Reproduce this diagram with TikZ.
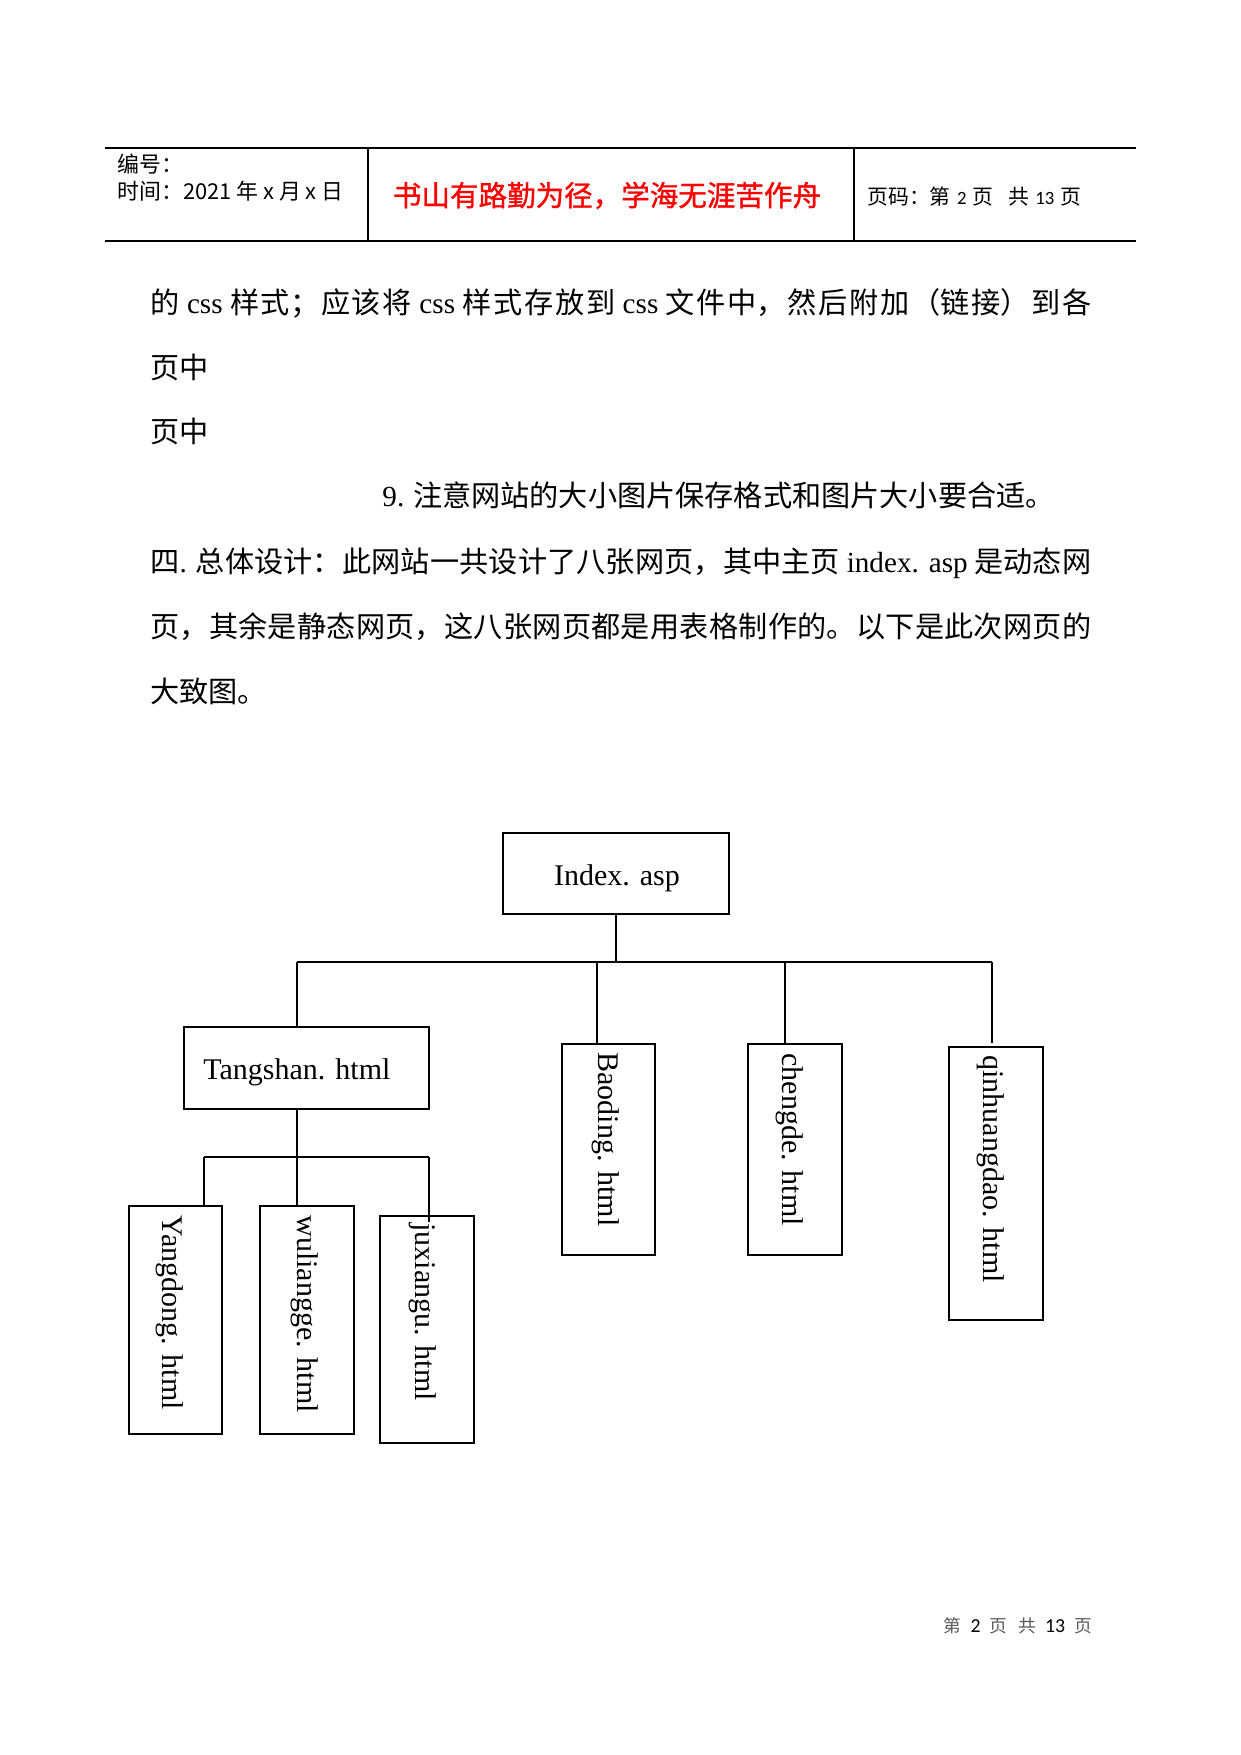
\documentclass[tikz,border=0pt]{standalone}
\usepackage{fontspec}
\setmainfont{Noto Sans CJK SC}
\newfontfamily\serifl{Liberation Serif}
\newfontfamily\carl{Carlito}
\newfontfamily\mottofont{Noto Sans CJK SC}[FakeBold=1.2]
\usetikzlibrary{calc}
\XeTeXlinebreaklocale "zh"
\XeTeXlinebreakskip=0pt plus 3pt
\begin{document}
\begin{tikzpicture}[x=0.48pt,y=-0.48pt,
  box/.style 2 args={draw, line width=0.8pt, minimum width=#1*0.48pt, minimum height=#2*0.48pt, inner sep=0pt, outer sep=0pt},
  lbl/.style={font=\serifl\fontsize{14.4pt}{16pt}\selectfont, inner sep=0pt},
  vlbl/.style={lbl, rotate=-90, anchor=west},
  conn/.style={line width=0.5pt},
  connb/.style={line width=0.9pt},
  rule/.style={line width=0.6pt},
  body/.style={font=\fontsize{14pt}{16pt}\selectfont, inner sep=0pt, anchor=base west},
  jline/.style={body, text width=451.68pt, align=justify},
  hdr/.style={font=\fontsize{10.5pt}{12pt}\selectfont, inner sep=0pt, anchor=base west}
]
\fill[white] (0,0) rectangle (1241,1755);
\useasboundingbox (0,0) rectangle (1241,1755);

% header table
\draw[rule] (105,148) -- (1136,148);
\draw[rule] (105,241) -- (1136,241);
\draw[rule] (368,148) -- (368,241);
\draw[rule] (854,148) -- (854,241);
\node[hdr] (h1) at (117,172) {编号：};
\node[hdr] (h2) at (117,199) {时间：2021 年 x 月 x 日};
\node[anchor=base, inner sep=0pt, text=red, font=\mottofont\fontsize{13.7pt}{15pt}\selectfont] (motto) at (607,206) {书山有路勤为径，学海无涯苦作舟};
\node[hdr, font=\fontsize{10pt}{12pt}\selectfont] (pg) at (867,204) {页码：第\hspace{3pt}{\carl\fontsize{9pt}{10pt}\selectfont 2}\hspace{3pt}页\hspace{7pt}共\hspace{3pt}{\carl\fontsize{9pt}{10pt}\selectfont 13}\hspace{3pt}页};

% body text
\node[jline] (l1) at (150,313) {\parfillskip=0pt\noindent 的 {\serifl css} 样式；应该将 {\serifl css} 样式存放到 {\serifl css} 文件中，然后附加（链接）到各\par};
\node[body] (l2) at (150,378) {页中};
\node[body] (l3) at (150,442) {页中};
\node[body] (l4) at (382,506) {{\serifl 9.} 注意网站的大小图片保存格式和图片大小要合适。};
\node[jline] (l5) at (150,572) {\parfillskip=0pt\noindent 四{\serifl .} 总体设计：此网站一共设计了八张网页，其中主页 {\serifl index. asp} 是动态网\par};
\node[jline] (l6) at (150,637) {\parfillskip=0pt\noindent 页，其余是静态网页，这八张网页都是用表格制作的。以下是此次网页的\par};
\node[body] (l7) at (150,702) {大致图。};

% diagram boxes
\node[box={226}{81}] (index) at (616,873.5) {};
\node[lbl] (indext) at (617,878) {Index. asp};
\node[box={245}{82}] (tang) at (306.5,1068) {};
\node[lbl, anchor=west] (tangt) at (203,1072) {Tangshan. html};
\node[box={93}{211}] (baod) at (608.5,1149.5) {};
\node[vlbl] (baodt) at (606,1052) {Baoding. html};
\node[box={94}{211}] (cheng) at (795,1149.5) {};
\node[vlbl] (chengt) at (790,1053) {chengde. html};
\node[box={94}{273}] (qin) at (996,1183.5) {};
\node[vlbl] (qint) at (991,1055) {qinhuangdao. html};
\node[box={93}{228}] (yang) at (175.5,1320) {};
\node[vlbl] (yangt) at (170,1215) {Yangdong. html};
\node[box={94}{228}] (wuli) at (307,1320) {};
\node[vlbl] (wulit) at (305,1215) {wuliangge. html};
\node[box={94}{227}] (juxi) at (427,1329.5) {};
\node[vlbl] (juxit) at (423,1223) {juxiangu. html};

% connectors, level 1
\coordinate (j1) at (616,962);
\coordinate (bT) at (297,962);
\coordinate (bB) at (597,962);
\coordinate (bC) at (785,962);
\coordinate (bQ) at (992,962);
\coordinate (qEnd) at (992,1043);
\draw[conn] (index.south) -- (j1);
\draw[conn] (bT) -- (bQ);
\draw[conn] (bT) -- (bT |- tang.north);
\draw[conn] (bB) -- (bB |- baod.north);
\draw[connb] (bC) -- (bC |- cheng.north);
\draw[conn] (bQ) -- (qEnd);

% connectors, level 2
\coordinate (j2) at (297,1157);
\coordinate (b2L) at (204,1157);
\coordinate (b2R) at (429,1157);
\coordinate (jxEnd) at (429,1222);
\draw[conn] (j2 |- tang.south) -- (j2) -- (j2 |- wuli.north);
\draw[conn] (b2L) -- (b2R);
\draw[connb] (b2L) -- (b2L |- yang.north);
\draw[connb] (b2R) -- (jxEnd);

% footer
\node[anchor=base west, inner sep=0pt, text=black!65, font=\fontsize{8.5pt}{10pt}\selectfont] (foot) at (943,1632) {第\hspace{4.5pt}{\carl\color{black}\fontsize{9.5pt}{10pt}\selectfont 2}\hspace{4.5pt}页\hspace{5pt}共\hspace{4.5pt}{\carl\color{black}\fontsize{9.5pt}{10pt}\selectfont 13}\hspace{4.5pt}页};
\end{tikzpicture}
\end{document}
